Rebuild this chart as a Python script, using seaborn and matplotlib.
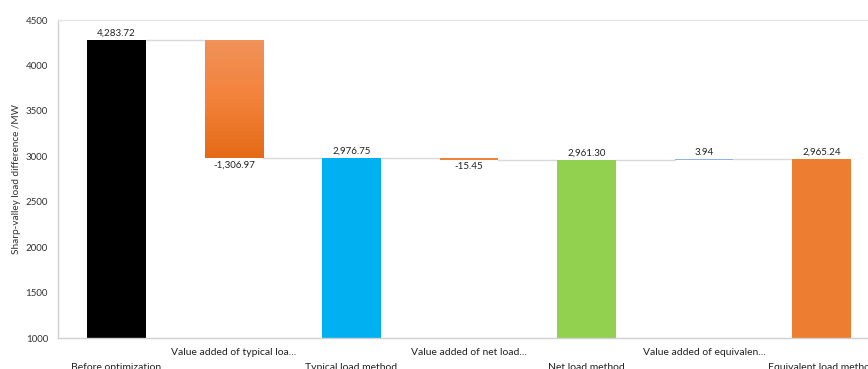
import numpy as np
import pandas as pd
import matplotlib
matplotlib.use("Agg")
import matplotlib.pyplot as plt
import seaborn as sns

# Waterfall of sharp-valley load difference across load methods
categories = [
    "Before optimization",
    "Value added of typical loa...",
    "Typical load method",
    "Value added of net load...",
    "Net load method",
    "Value added of equivalen...",
    "Equivalent load method",
]
values = [4283.72, -1306.97, 2976.75, -15.45, 2961.30, 3.94, 2965.24]
is_total = [True, False, True, False, True, False, True]
value_labels = ["4,283.72", "-1,306.97", "2,976.75", "-15.45", "2,961.30", "3.94", "2,965.24"]
bar_colors = ["#000000", "#F07C2B", "#00B0F0", "#F0813A", "#92D050", "#8FB4E3", "#ED7D31"]

# running level to compute bases and tops of each bar
bases, tops = [], []
level = 0.0
for v, tot in zip(values, is_total):
    if tot:
        level = v
        bases.append(0.0)
        tops.append(v)
    else:
        lo, hi = sorted([level, level + v])
        bases.append(lo)
        tops.append(hi)
        level = level + v

df = pd.DataFrame({"category": categories, "top": tops})

sns.set_theme(style="white")
plt.rcParams["font.family"] = ["Lato", "DejaVu Sans"]

fig = plt.figure(figsize=(8.68, 3.69), dpi=100)
ax = fig.add_axes([57.75 / 868, 31 / 369, 822.5 / 868, 318 / 369])

sns.barplot(data=df, x="category", y="top", hue="category", palette=bar_colors,
            legend=False, width=0.5, ax=ax, saturation=1)

patches = sorted(ax.patches, key=lambda p: p.get_x())
for p, b, t in zip(patches, bases, tops):
    p.set_y(b)
    p.set_height(t - b)
    p.set_edgecolor("none")

# gradient fill on the large decrease bar
p = patches[1]
x0, w = p.get_x(), p.get_width()
grad = np.linspace(0, 1, 256).reshape(-1, 1)
cmap = matplotlib.colors.LinearSegmentedColormap.from_list("og", ["#E46A17", "#F3823A", "#F0925A"])
im = ax.imshow(grad, aspect="auto", cmap=cmap, origin="lower",
               extent=[x0, x0 + w, bases[1], tops[1]], zorder=p.get_zorder())
im.set_clip_path(p)
p.set_facecolor("none")

# connector lines between consecutive bars
level = 0.0
for i, (v, tot) in enumerate(zip(values, is_total)):
    level = v if tot else level + v
    if i < len(values) - 1:
        xa = patches[i].get_x() + patches[i].get_width()
        xb = patches[i + 1].get_x()
        ax.plot([xa, xb], [level, level], color="#D9D9D9", lw=1.0, zorder=0.5)

# value labels
for i, (p, v, lab) in enumerate(zip(patches, values, value_labels)):
    cx = p.get_x() + p.get_width() / 2
    if v >= 0:
        ax.text(cx, tops[i] + 25, lab, ha="center", va="bottom", fontsize=7, color="#222222")
    else:
        ax.text(cx, bases[i] - 25, lab, ha="center", va="top", fontsize=7, color="#222222")

ax.set_ylim(1000, 4500)
ax.set_xlim(-0.5, 6.5)
ax.set_yticks(np.arange(1000, 4501, 500))
ax.set_xticks(range(len(categories)))
ax.set_xticklabels([("\n" + c) if tot else c for c, tot in zip(categories, is_total)],
                   linespacing=1.75)
ax.tick_params(axis="x", length=0, pad=7.5, labelsize=7.5, colors="#222222")
ax.tick_params(axis="y", length=0, pad=7, labelsize=7, colors="#333333")
ax.set_xlabel("")
ax.set_ylabel("Sharp-valley load difference /MW", fontsize=7.2, color="#333333", labelpad=3)

for side in ["left", "bottom", "top"]:
    ax.spines[side].set_color("#D0D0D0")
    ax.spines[side].set_linewidth(1.0)
ax.spines["right"].set_visible(False)
ax.spines["top"].set_color("#E6E6E6")

fig.savefig("out.png", dpi=100)
